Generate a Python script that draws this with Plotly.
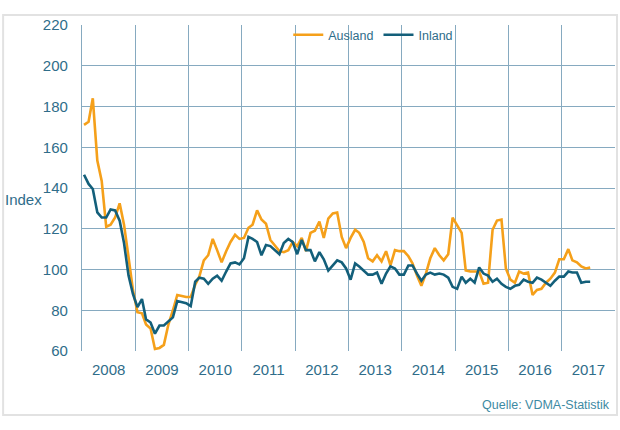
import plotly.graph_objects as go
import pandas as pd

# ---- data (monthly index, Jan 2008 .. Jul 2017) ----
ausland = [
    171, 172.5, 184, 153.5, 143.5, 121, 122, 125.5, 132.5, 122, 106, 90,          # 2008
    79, 78.5, 73, 71, 61, 61.5, 63, 73, 80, 87.5, 87, 86.5,                        # 2009
    86.5, 92.5, 96.5, 104.5, 107, 115, 109.5, 103.5, 109, 113.5, 117, 115,         # 2010
    115.5, 120.5, 122, 129, 124.5, 122.5, 114.5, 111.5, 109, 108.5, 109.5, 113.5,  # 2011
    111.5, 115.5, 109, 118, 119, 123.5, 115.5, 125, 127.5, 128, 116, 110.5,        # 2012
    115.5, 119.5, 118, 113.5, 105.5, 104, 107, 104, 109, 102, 109.5, 109,          # 2013
    109, 106.5, 103, 97, 92, 98, 105.5, 110.5, 107, 104.5, 107.5, 125.5,           # 2014
    121.5, 118, 99.5, 99, 99, 99, 93, 93.5, 119.5, 124, 124.5, 100.5,              # 2015
    95, 93.5, 99, 98, 98.5, 87.5, 90, 90.5, 93.5, 95.5, 98.5, 105,                 # 2016
    105, 110, 104.5, 103.5, 101.5, 100.5, 101,                                     # 2017
]
inland = [
    146.5, 142, 139.5, 128, 125.5, 125.5, 129.5, 129, 124, 113, 97, 88,            # 2008
    81.5, 85.5, 75.5, 74, 68.5, 72.5, 72.5, 74.5, 76.5, 84.5, 84, 83.5,            # 2009
    82, 94, 96, 95.5, 93, 95.5, 97, 94.5, 99, 103, 103.5, 102.5,                   # 2010
    105.5, 116, 115, 113.5, 107, 112, 111.5, 109.5, 107.5, 113, 115, 113.5,        # 2011
    107.5, 114.5, 109.5, 109.5, 104, 108.5, 105, 99.5, 102, 104.5, 103.5, 100.5,   # 2012
    95, 103, 101.5, 99.5, 97.5, 97.5, 98.5, 93, 98, 101.5, 100.5, 97.5,            # 2013
    97.5, 102, 102, 98, 94.5, 97.5, 98.5, 97.5, 98, 97.5, 96, 91.5,                # 2014
    90.5, 96.5, 93.5, 95.5, 93.5, 101, 98, 97, 94, 95.5, 93, 91.5,                 # 2015
    90.5, 92, 92.5, 95, 94, 93.5, 96, 95, 93.5, 92, 94.5, 96.5,                    # 2016
    96.5, 99, 98.5, 98.5, 93.5, 94, 94,                                            # 2017
]
months = pd.date_range("2008-01-01", periods=len(ausland), freq="MS") + pd.Timedelta(days=14)
y_ticks = [60, 80, 100, 120, 140, 160, 180, 200, 220]

ORANGE = "#f5a01a"
TEAL = "#135f7a"
GRID = "#86aac0"
TXT = "#2f6d8a"

fig = go.Figure()
fig.add_trace(go.Scatter(x=months, y=ausland, mode="lines", name="Ausland",
                         line=dict(color=ORANGE, width=2.6)))
fig.add_trace(go.Scatter(x=months, y=inland, mode="lines", name="Inland",
                         line=dict(color=TEAL, width=2.6)))

fig.update_layout(
    width=620, height=430,
    margin=dict(l=82, r=5, t=25, b=79),
    paper_bgcolor="white", plot_bgcolor="white",
    font=dict(family="Liberation Sans, Arial, sans-serif", color=TXT, size=15),
    showlegend=True,
    legend=dict(orientation="h", x=0.387, y=1.015, xanchor="left", yanchor="top",
                bgcolor="rgba(0,0,0,0)", font=dict(size=12.5, color=TXT),
                itemwidth=30, tracegroupgap=0),
)
fig.update_xaxes(
    type="date",
    range=["2008-01-01", "2018-01-01"],
    tick0="2008-01-01", dtick="M12",
    ticklabelmode="period",
    tickformat="%Y",
    showgrid=True, gridcolor=GRID, gridwidth=1.3,
    showline=False, zeroline=False,
    ticks="", ticklabelstandoff=8,
    tickfont=dict(size=15, color=TXT),
)
fig.update_yaxes(
    range=[60, 220], tickvals=y_ticks,
    showgrid=True, gridcolor=GRID, gridwidth=1.3,
    showline=True, linecolor=GRID, linewidth=1.3,
    zeroline=False, ticks="", ticklabelstandoff=10,
    tickfont=dict(size=15, color=TXT),
)

fig.add_annotation(text="Index", xref="paper", yref="paper", x=-0.109, y=0.466,
                   showarrow=False, xanchor="center", yanchor="middle",
                   font=dict(size=15, color=TXT))
fig.add_annotation(text="Quelle: VDMA-Statistik", xref="paper", yref="paper",
                   x=0.994, y=-0.166, showarrow=False, xanchor="right", yanchor="middle",
                   font=dict(size=12.5, color="#3d8aa3"))
# outer frame
fig.add_shape(type="rect", xref="paper", yref="paper",
              x0=-0.148, x1=1.0038, y0=-0.196, y1=1.0307,
              line=dict(color="#e2e2e2", width=2), fillcolor="rgba(0,0,0,0)", layer="below")

fig.write_html("out.html", config={"displayModeBar": False},
               post_script="document.body.style.margin='0px';")
